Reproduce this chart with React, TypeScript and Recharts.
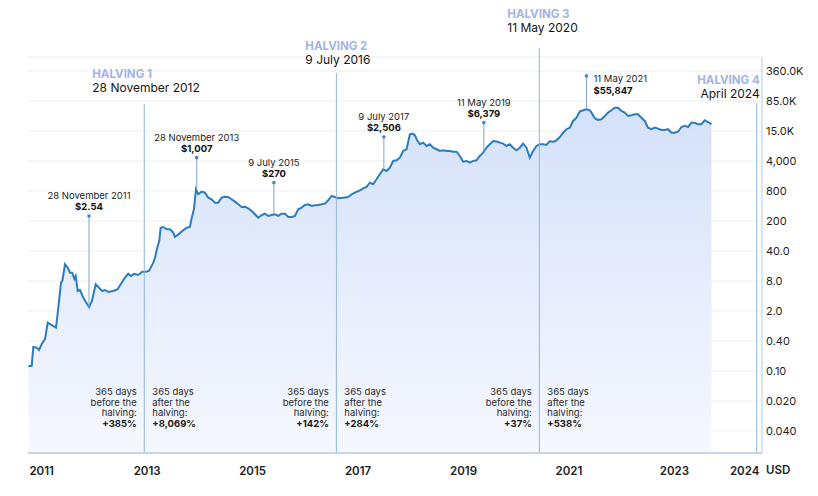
import React from 'react';
import { AreaChart, Area, XAxis, YAxis, CartesianGrid, ReferenceLine } from 'recharts';

// BTC price (decimal year, USD)
const dates = [
  2010.746, 2010.81, 2010.841, 2010.905, 2010.949, 2011.0, 2011.063, 2011.114, 2011.19, 2011.271,
  2011.315, 2011.366, 2011.391, 2011.442, 2011.493, 2011.537, 2011.58, 2011.618, 2011.645, 2011.683,
  2011.726, 2011.789, 2011.834, 2011.897, 2011.948, 2012.024, 2012.086, 2012.149, 2012.2, 2012.263,
  2012.357, 2012.441, 2012.516, 2012.579, 2012.641, 2012.693, 2012.755, 2012.831, 2012.907, 2012.971,
  2013.034, 2013.116, 2013.148, 2013.191, 2013.229, 2013.256, 2013.305, 2013.37, 2013.432, 2013.495,
  2013.527, 2013.609, 2013.684, 2013.749, 2013.811, 2013.843, 2013.887, 2013.925, 2013.968, 2014.033,
  2014.095, 2014.158, 2014.222, 2014.285, 2014.348, 2014.412, 2014.475, 2014.537, 2014.602, 2014.664,
  2014.727, 2014.791, 2014.854, 2014.917, 2014.981, 2015.044, 2015.106, 2015.171, 2015.233, 2015.296,
  2015.36, 2015.423, 2015.486, 2015.55, 2015.612, 2015.675, 2015.739, 2015.802, 2015.865, 2015.929,
  2015.991, 2016.054, 2016.118, 2016.181, 2016.244, 2016.308, 2016.37, 2016.433, 2016.497, 2016.56,
  2016.623, 2016.718, 2016.812, 2016.877, 2016.939, 2017.034, 2017.097, 2017.161, 2017.224, 2017.286,
  2017.35, 2017.413, 2017.475, 2017.54, 2017.602, 2017.665, 2017.73, 2017.792, 2017.855, 2017.919,
  2017.982, 2018.033, 2018.077, 2018.121, 2018.172, 2018.234, 2018.299, 2018.361, 2018.424, 2018.488,
  2018.551, 2018.613, 2018.678, 2018.74, 2018.803, 2018.867, 2018.93, 2018.992, 2019.057, 2019.119,
  2019.182, 2019.246, 2019.309, 2019.371, 2019.436, 2019.498, 2019.561, 2019.625, 2019.688, 2019.75,
  2019.815, 2019.877, 2019.94, 2020.004, 2020.067, 2020.129, 2020.194, 2020.256, 2020.319, 2020.383,
  2020.446, 2020.509, 2020.573, 2020.636, 2020.698, 2020.763, 2020.825, 2020.888, 2020.952, 2021.015,
  2021.077, 2021.142, 2021.204, 2021.267, 2021.331, 2021.394, 2021.426, 2021.488, 2021.551, 2021.615,
  2021.678, 2021.74, 2021.805, 2021.867, 2021.93, 2021.995, 2022.057, 2022.12, 2022.184, 2022.247,
  2022.309, 2022.374, 2022.436, 2022.499, 2022.564, 2022.626, 2022.689, 2022.753, 2022.816, 2022.878,
  2022.943, 2023.005, 2023.068, 2023.132, 2023.195, 2023.257, 2023.322, 2023.384, 2023.447, 2023.511,
  2023.573, 2023.636, 2023.701,
];

const prices = [
  0.129, 0.129, 0.335, 0.324, 0.288, 0.39, 0.501, 1.14, 1.01, 0.885,
  2.43, 8.54, 9.3, 21.6, 18.2, 14.1, 14.1, 10.3, 12.0, 5.62,
  5.91, 4.01, 3.28, 2.51, 3.28, 7.87, 6.64, 5.62, 5.91, 5.35,
  5.62, 6.12, 8.54, 11.0, 13.4, 12.0, 13.4, 12.6, 14.9, 14.9,
  15.4, 23.4, 30.1, 49.8, 69.7, 136, 141, 126, 126, 106,
  85.3, 101, 120, 136, 141, 219, 344, 942, 733, 836,
  794, 618, 570, 480, 480, 618, 649, 640, 570, 505,
  443, 386, 392, 362, 316, 268, 225, 255, 276, 246,
  258, 268, 246, 276, 276, 233, 233, 246, 344, 373,
  428, 443, 406, 421, 428, 443, 456, 542, 673, 640,
  598, 618, 640, 733, 794, 896, 990, 1059, 1315, 1213,
  1560, 2005, 2582, 2371, 2800, 3920, 4060, 4630, 6490, 7070,
  15000, 15500, 14300, 11100, 9100, 9860, 8340, 9100, 7660, 7070,
  6490, 6720, 6490, 6490, 6270, 6270, 5050, 3790, 3920, 3600,
  3920, 4060, 5050, 5960, 7660, 9100, 10700, 10400, 9860, 9380,
  8340, 9100, 7660, 6720, 7660, 9380, 7660, 4630, 6490, 8340,
  9100, 9100, 8780, 10700, 10200, 11100, 13100, 16300, 19400, 21000,
  29400, 34700, 47000, 50400, 53000, 50400, 44700, 33700, 30900, 32000,
  37800, 44700, 50400, 57400, 57400, 48600, 44700, 37800, 39200, 41200,
  41200, 34700, 29400, 21000, 19400, 21000, 19950, 18700, 18700, 19400,
  16300, 16300, 17100, 21700, 22900, 21700, 27000, 27000, 24900, 24900,
  30400, 27900, 24900,
];

const yLabels = ['0.040', '0.020', '0.10', '0.40', '2.0', '8.0', '40.0', '200', '800', '4,000', '15.0K', '85.0K', '360.0K'];
const yearTicks = [2011, 2013, 2015, 2017, 2019, 2021, 2023, 2024.33];

const halvingNames = ['HALVING 1', 'HALVING 2', 'HALVING 3', 'HALVING 4'];
const halvingDates = ['28 November 2012', '9 July 2016', '11 May 2020', 'April 2024'];
const halvingAt = [2012.945, 2016.588, 2020.437, 2024.56];
const halvingTop = [69200, 330000, 1160000, 72800];
const gainBefore = ['+385%', '+142%', '+37%', ''];
const gainAfter = ['+8,069%', '+284%', '+538%', ''];

const peakDates = ['28 November 2011', '28 November 2013', '9 July 2015', '9 July 2017', '11 May 2019', '11 May 2021'];
const peakValues = [2.54, 1007, 270, 2506, 6379, 55847];
const peakAt = [2011.897, 2013.94, 2015.404, 2017.489, 2019.385, 2021.331];
const peakTop = [246, 4630, 1315, 13100, 27000, 284000];

// the printed tick labels are only roughly logarithmic; ticks sit evenly on a log axis
const STEP = 4.53;
const yTicks = yLabels.map((_, i) => 0.1 * Math.pow(STEP, i - 2));
const yDomain = [yTicks[0] * Math.pow(STEP, -22 / 30), yTicks[yTicks.length - 1] * Math.pow(STEP, 14 / 30)];

const data = dates.map((t, i) => ({ t, price: prices[i] }));

const FONT = 'Inter, "Noto Sans", sans-serif';
const LINE = '#2d7cc0';
const GUIDE = '#8fb4d8';

const halvingLayout = [
  { dx: -52, anchor: 'start', gap: 12 },
  { dx: -31, anchor: 'start', gap: 9 },
  { dx: -32, anchor: 'start', gap: 15.5 },
  { dx: 3, anchor: 'end', gap: 5 },
];

const boxOf = (props: any) => props.viewBox || {};

const HalvingLabel = (props: any) => {
  const { x, y, height } = boxOf(props);
  if (x == null) return null;
  const i = props.index;
  const lay = halvingLayout[i];
  const bottom = y + height;
  const dateY = y - lay.gap;
  const lines = (side: 'before' | 'after', gain: string) => {
    const tx = side === 'before' ? x - 7.5 : x + 8;
    const anchor = side === 'before' ? 'end' : 'start';
    const rows = ['365 days', side === 'before' ? 'before the' : 'after the', 'halving:'];
    return (
      <g fontFamily={FONT} fontSize={9.5} fill="#2b2b2b" textAnchor={anchor}>
        {rows.map((r, k) => (
          <text key={k} x={tx} y={bottom - 58 + k * 10.6}>{r}</text>
        ))}
        <text x={tx} y={bottom - 58 + 3 * 10.6} fontWeight={700} fill="#1a1a1a">{gain}</text>
      </g>
    );
  };
  return (
    <g>
      <text x={x + lay.dx} y={dateY - 14} textAnchor={lay.anchor} fontFamily={FONT} fontSize={11.5} fontWeight={700} fill="#a3b4e8">
        {halvingNames[i]}
      </text>
      <text x={x + lay.dx} y={dateY} textAnchor={lay.anchor} fontFamily={FONT} fontSize={12} fill="#151515">
        {halvingDates[i]}
      </text>
      {gainBefore[i] && lines('before', gainBefore[i])}
      {gainAfter[i] && lines('after', gainAfter[i])}
    </g>
  );
};

const PeakLabel = (props: any) => {
  const { x, y } = boxOf(props);
  if (x == null) return null;
  const i = props.index;
  const side = i === peakDates.length - 1;
  const value = '$' + peakValues[i].toLocaleString('en-US');
  return (
    <g fontFamily={FONT} fontSize={9.5}>
      <circle cx={x} cy={y} r={1.8} fill="#4a86bf" />
      {side ? (
        <>
          <text x={x + 7} y={y + 6.5} fill="#222">{peakDates[i]}</text>
          <text x={x + 7} y={y + 18.5} fontWeight={700} fill="#111">{value}</text>
        </>
      ) : (
        <>
          <text x={x} y={y - 17} textAnchor="middle" fill="#222">{peakDates[i]}</text>
          <text x={x} y={y - 6} textAnchor="middle" fontWeight={700} fill="#111">{value}</text>
        </>
      )}
    </g>
  );
};

const yTickText = (v: number) => {
  const i = yTicks.findIndex((t) => Math.abs(t - v) / t < 1e-6);
  return i >= 0 ? yLabels[i] : '';
};

export default function App() {
  return (
    <div style={{ width: 818, height: 496, background: '#fff', position: 'relative' }}>
      <style>{'body{margin:0}'}</style>
      <AreaChart width={818} height={496} data={data} margin={{ top: 57, right: 0, bottom: 0, left: 28 }}>
        <defs>
          <linearGradient id="btcFill" x1="0" y1="0" x2="0" y2="1">
            <stop offset="0%" stopColor="#d5e1fa" />
            <stop offset="100%" stopColor="#f6f8fe" />
          </linearGradient>
        </defs>
        <CartesianGrid vertical={false} stroke="#eceef3" />
        <XAxis
          type="number"
          dataKey="t"
          domain={[2010.74, 2024.66]}
          ticks={yearTicks}
          interval={0}
          tickFormatter={(v: number) => String(Math.floor(v))}
          height={43}
          tickLine={false}
          tickSize={6}
          tickMargin={8}
          axisLine={{ stroke: '#b9cde0', strokeWidth: 1.5 }}
          tick={{ fontFamily: FONT, fontSize: 11.5, fontWeight: 600, fill: '#1d1d1f' }}
          allowDataOverflow
        />
        <YAxis
          orientation="right"
          scale="log"
          type="number"
          domain={yDomain}
          ticks={yTicks}
          interval={0}
          allowDataOverflow
          width={56}
          tickLine={false}
          tickSize={2}
          tickMargin={2}
          axisLine={{ stroke: '#b9cde0' }}
          tickFormatter={yTickText}
          tick={{ fontFamily: FONT, fontSize: 11, fill: '#1f1f1f', textAnchor: 'start' }}
        />
        <Area
          type="linear"
          dataKey="price"
          stroke={LINE}
          strokeWidth={2}
          fill="url(#btcFill)"
          fillOpacity={1}
          baseValue={yDomain[0]}
          dot={false}
          activeDot={false}
          isAnimationActive={false}
        />
        {halvingAt.map((t, i) => (
          <ReferenceLine
            key={'h' + i}
            segment={[{ x: t, y: yDomain[0] }, { x: t, y: halvingTop[i] }]}
            stroke={GUIDE}
            strokeWidth={1}
            ifOverflow="visible"
            label={(p: any) => <HalvingLabel {...p} index={i} />}
          />
        ))}
        {peakAt.map((t, i) => (
          <ReferenceLine
            key={'p' + i}
            segment={[{ x: t, y: peakValues[i] }, { x: t, y: peakTop[i] }]}
            stroke="#7ea6cf"
            strokeWidth={1}
            ifOverflow="visible"
            label={(p: any) => <PeakLabel {...p} index={i} />}
          />
        ))}
      </AreaChart>
      <div
        style={{
          position: 'absolute',
          left: 766,
          top: 463,
          fontFamily: FONT,
          fontSize: 11.5,
          fontWeight: 600,
          color: '#1d1d1f',
        }}
      >
        USD
      </div>
    </div>
  );
}
